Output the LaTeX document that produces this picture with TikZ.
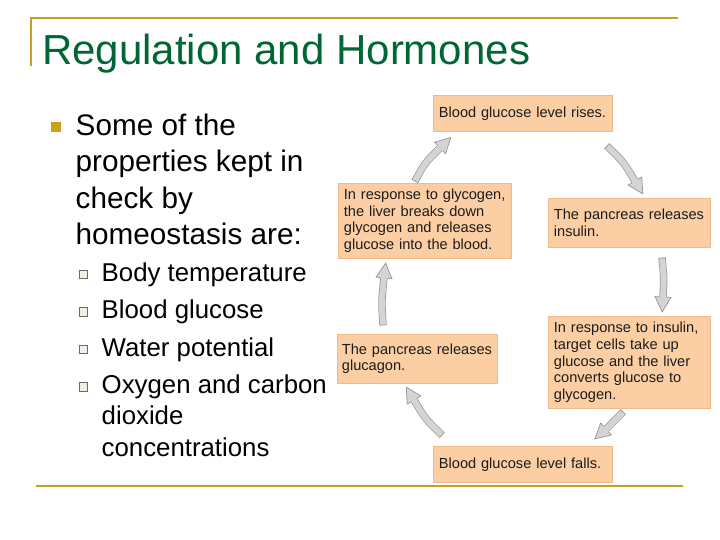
\documentclass[tikz,border=0pt]{standalone}
\usepackage{fontspec}
\setmainfont{Liberation Sans}
\usetikzlibrary{calc}
\hyphenpenalty=10000
\exhyphenpenalty=10000

\definecolor{gold}{RGB}{196,160,40}
\definecolor{bulletgold}{RGB}{204,160,24}
\definecolor{titlegreen}{RGB}{0,102,51}
\definecolor{peach}{RGB}{252,206,164}
\definecolor{peachline}{RGB}{238,186,140}
\definecolor{arrowfill}{RGB}{212,212,212}
\definecolor{arrowline}{RGB}{150,150,150}
\definecolor{boxtext}{RGB}{28,28,28}
\definecolor{subbullet}{RGB}{100,115,85}
\definecolor{subbulletfill}{RGB}{236,241,230}

\newcommand{\blockarrow}[3]{%
  \coordinate (bt) at #1; \coordinate (bc) at #2; \coordinate (bb) at #3;
  \coordinate (bp) at ($(bb)!-15pt!(bc)$);
  \draw[shaft] (bt) .. controls (bc) .. (bb);
  \draw[arrowedge] ($(bt)!3.6pt!90:(bc)$) -- ($(bt)!3.6pt!-90:(bc)$);
  \fill[arrowhead] ($(bb)!3.6pt!90:(bp)$) -- ($(bb)!8pt!90:(bp)$) -- (bp)
     -- ($(bb)!8pt!-90:(bp)$) -- ($(bb)!3.6pt!-90:(bp)$) -- cycle;
  \draw[arrowedge] ($(bb)!3.6pt!90:(bp)$) -- ($(bb)!8pt!90:(bp)$) -- (bp)
     -- ($(bb)!8pt!-90:(bp)$) -- ($(bb)!3.6pt!-90:(bp)$);
}

\begin{document}
\begin{tikzpicture}[x=1pt,y=-1pt,
  box/.style={draw=peachline, line width=0.8pt, fill=peach, anchor=north west,
    inner xsep=5.5pt, inner ysep=0pt, align=left, text=boxtext,
    font=\fontsize{14.6}{16.6}\selectfont},
  shaft/.style={draw=arrowline, line width=0.7pt, double=arrowfill, double distance=6pt},
  arrowhead/.style={fill=arrowfill},
  arrowedge/.style={draw=arrowline, line width=0.7pt, line join=miter},
  maintext/.style={anchor=base west, inner sep=0pt, font=\fontsize{29.7}{36}\selectfont},
  subtext/.style={anchor=base west, inner sep=0pt, font=\fontsize{25.8}{31}\selectfont},
  mainbullet/.style={fill=bulletgold, minimum size=10pt, inner sep=0pt},
  subbulletbox/.style={draw=subbullet, fill=subbulletfill, line width=1pt, minimum size=8.5pt, inner sep=0pt},
  goldline/.style={draw=gold, line width=2.6pt}
]
\useasboundingbox (0,0) rectangle (720,540);

% frame lines
\draw[goldline] (29.7,18) -- (678,18);
\draw[goldline] (31,18) -- (31,66);
\draw[goldline] (36,486) -- (683,486);

% title
\node[anchor=base west, inner sep=0pt, text=titlegreen, font=\fontsize{42}{42}\selectfont]
  (title) at (42,65) {Regulation and Hormones};

% left text
\node[mainbullet] (mb) at (56,127) {};
\node[maintext] (m1) at (75.5,136) {Some of the};
\node[maintext] (m2) at (75.5,172) {properties kept in};
\node[maintext] (m3) at (75.5,208) {check by};
\node[maintext] (m4) at (75.5,244) {homeostasis are:};

\node[subbulletbox] (sb1) at (83.5,274.5) {};
\node[subbulletbox] (sb2) at (83.5,312) {};
\node[subbulletbox] (sb3) at (83.5,349.5) {};
\node[subbulletbox] (sb4) at (83.5,387) {};
\node[subtext] (s1) at (101.5,281) {Body temperature};
\node[subtext] (s2) at (101.5,318.5) {Blood glucose};
\node[subtext] (s3) at (101.5,356) {Water potential};
\node[subtext] (s4) at (101.5,393.5) {Oxygen and carbon};
\node[subtext] (s5) at (101.5,424.5) {dioxide};
\node[subtext] (s6) at (101.5,456) {concentrations};

% diagram boxes
\node[box, minimum width=179pt, text width=168pt, minimum height=36pt] (rise) at (433,95)
  {Blood glucose level rises.};
\node[box, minimum width=162pt, text width=151pt, minimum height=49pt] (insulin) at (548,198)
  {The pancreas releases\\insulin.};
\node[box, minimum width=173pt, text width=162pt, minimum height=75pt] (liver) at (338,183)
  {In response to glycogen,\\the liver breaks down\\glycogen and releases\\glucose into the blood.};
\node[box, inner xsep=4.5pt, minimum width=160pt, text width=151pt, minimum height=49pt] (glucagon) at (337,334)
  {The pancreas releases\\glucagon.};
\node[box, minimum width=162pt, text width=151pt, minimum height=92pt] (target) at (548,316)
  {In response to insulin,\\target cells take up\\glucose and the liver\\converts glucose to\\glycogen.};
\node[box, minimum width=179pt, text width=168pt, minimum height=36pt] (fall) at (433,446)
  {Blood glucose level falls.};

% curved block arrows: tail, control, head base; tip follows control -> base
\blockarrow{(415,181)}{(425,162.7)}{(440,148)}
\blockarrow{(607,146)}{(623.3,161.6)}{(635,181)}
\blockarrow{(662,258)}{(664,278)}{(663,297)}
\blockarrow{(623,412)}{(615,421)}{(606,429)}
\blockarrow{(442,435)}{(425.7,419.4)}{(414,400)}
\blockarrow{(383,325)}{(381.5,301)}{(384,278)}
\end{tikzpicture}
\end{document}
